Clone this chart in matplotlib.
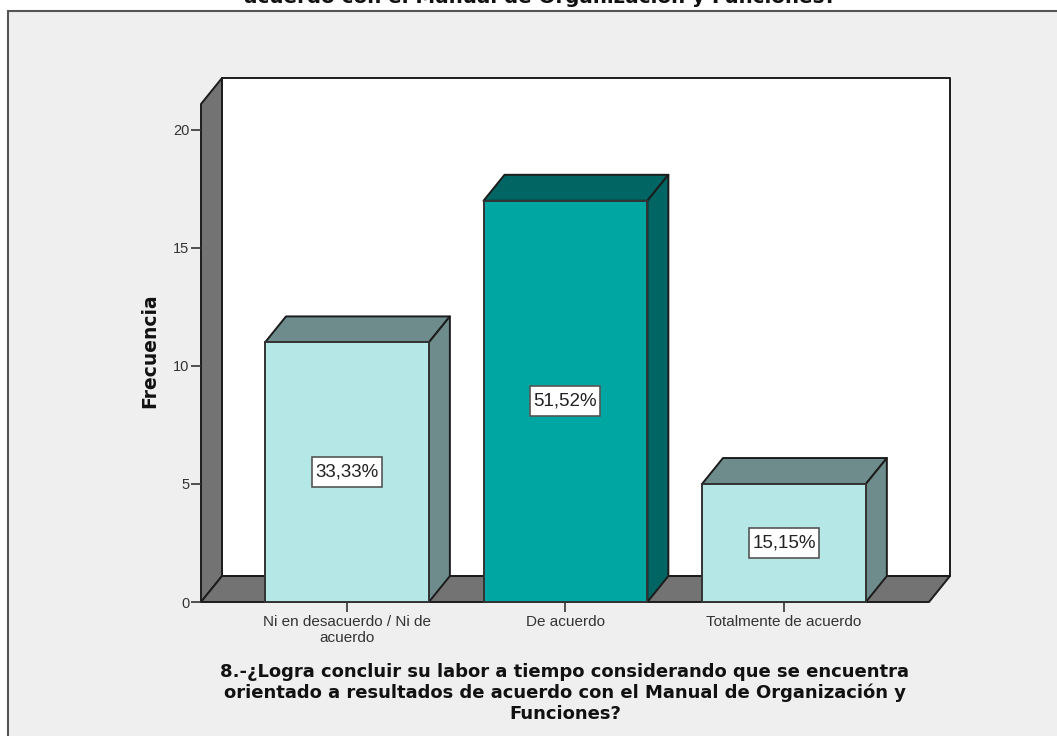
import matplotlib
matplotlib.use("Agg")
import matplotlib.pyplot as plt
from matplotlib.patches import Polygon, Rectangle

# Data
categorias = ["Ni en desacuerdo / Ni de\nacuerdo", "De acuerdo", "Totalmente de acuerdo"]
frecuencias = [11, 17, 5]
porcentajes = ["33,33%", "51,52%", "15,15%"]
yticks = [0, 5, 10, 15, 20]

titulo = "acuerdo con el Manual de Organización y Funciones?"
xlabel = ("8.-¿Logra concluir su labor a tiempo considerando que se encuentra\n"
          "orientado a resultados de acuerdo con el Manual de Organización y\n"
          "Funciones?")

W, H = 1057, 736
LINE = "#1c1c1c"
FONDO = "#efefef"
PARED = "#737373"
colores = ["#b5e7e7", "#00a6a2", "#b5e7e7"]
laterales = ["#6e8c8c", "#006563", "#6e8c8c"]

plt.rcParams["font.family"] = ["Liberation Sans", "DejaVu Sans"]

fig = plt.figure(figsize=(W / 100, H / 100), dpi=100, facecolor="white")

# Grey frame, its right and bottom edges run off the figure
fig.add_artist(Rectangle((8 / W, -0.02), 1.02, 1 - 11 / H + 0.02, transform=fig.transFigure,
                         facecolor=FONDO, edgecolor="#555555", lw=1.5, zorder=-1))

# Axes box is the front plane of the 3D box
left, right, top, bottom = 201, 929, 104, 602
ax = fig.add_axes([left / W, 1 - bottom / H, (right - left) / W, (bottom - top) / H])
ax.patch.set_alpha(0)
for s in ax.spines.values():
    s.set_visible(False)

ax.set_xlim(-0.668, 2.664)
ax.set_ylim(0, 21.1)
dx = 21 / 218.5   # depth in x units
dy = 1.10         # depth in y units
ancho = 0.75
caja_w = 70 / 218.5   # percent box size in data units
caja_h = 30 / 23.6
xmin, xmax = ax.get_xlim()
ymax = ax.get_ylim()[1]


def poly(pts, color, z=2):
    ax.add_patch(Polygon(pts, closed=True, facecolor=color, edgecolor=LINE, lw=1.4,
                         joinstyle="round", clip_on=False, zorder=z))


# back wall, left wall and floor
poly([(xmin + dx, dy), (xmax + dx, dy), (xmax + dx, ymax + dy), (xmin + dx, ymax + dy)], "white", 1)
poly([(xmin, 0), (xmin + dx, dy), (xmin + dx, ymax + dy), (xmin, ymax)], PARED, 1)
poly([(xmin, 0), (xmax, 0), (xmax + dx, dy), (xmin + dx, dy)], PARED, 1)

for i, v in enumerate(frecuencias):
    x0, x1 = i - ancho / 2, i + ancho / 2
    # top and side faces of the bar
    poly([(x0, v), (x1, v), (x1 + dx, v + dy), (x0 + dx, v + dy)], laterales[i], 3)
    poly([(x1, 0), (x1 + dx, dy), (x1 + dx, v + dy), (x1, v)], laterales[i], 3)
    ax.bar(i, v, width=ancho, color=colores[i], edgecolor="#333333", lw=1.4, zorder=4, clip_on=False)
    ax.add_patch(Rectangle((i - caja_w / 2, v / 2 - caja_h / 2), caja_w, caja_h, facecolor="white",
                           edgecolor="#555555", lw=1.2, zorder=5))
    ax.text(i, v / 2, porcentajes[i], ha="center", va="center", fontsize=13.5, color="#222222",
            zorder=6)

ax.set_xticks(range(len(categorias)))
ax.set_xticklabels(categorias, fontsize=11, color="#333333", linespacing=1.2)
ax.set_yticks(yticks)
ax.set_yticklabels([str(t) for t in yticks], fontsize=10.5, color="#333333")
ax.tick_params(axis="both", length=7.5, width=1.2, color="#333333", pad=1)
ax.tick_params(axis="x", pad=2)

fig.text(150 / W, 1 - 350.5 / H, "Frecuencia", rotation=90, ha="center", va="center",
         fontsize=13.5, fontweight="bold", color="#111111", family="DejaVu Sans")
fig.text(565 / W, 1 - 693 / H, xlabel, ha="center", va="center", fontsize=13,
         fontweight="bold", color="#111111", linespacing=1.2, family="DejaVu Sans")
fig.text(540 / W, 1 - 3 / H, titulo, ha="center", va="baseline", fontsize=14.3,
         fontweight="bold", color="#111111", family="DejaVu Sans")

fig.savefig("out.png", dpi=100, facecolor=fig.get_facecolor())
